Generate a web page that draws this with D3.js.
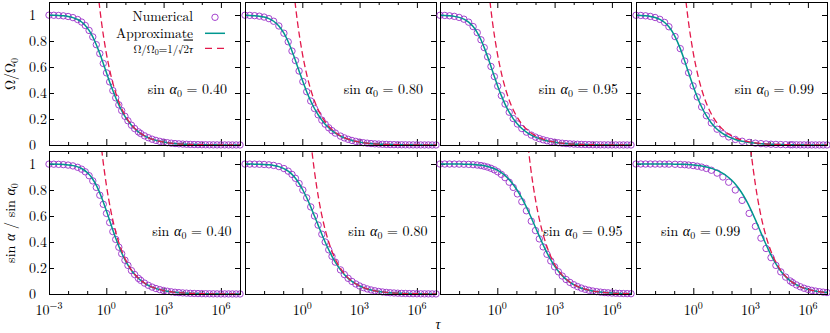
<!DOCTYPE html>
<html>
<head>
<meta charset="utf-8">
<script src="https://cdn.jsdelivr.net/npm/d3@7"></script>
<style>
body { margin: 0; background: #fff; }
text { font-family: "Latin Modern Roman", "CMU Serif", "Liberation Serif", serif; fill: #000; }
</style>
</head>
<body>
<svg id="chart" width="830" height="333"></svg>
<script>
// ---- data (x values are log10 tau) ----
const sinAlpha0Labels = ["0.40", "0.80", "0.95", "0.99"];
const xTickExp = [-3, 0, 3, 6];
const xMinorExp = [-2, -1, 1, 2, 4, 5, 7];
const yTicks = [0, 0.2, 0.4, 0.6, 0.8, 1];

// numerical solution, sin a0 = 0.40
const numTau1 = [-3, -2.75, -2.5, -2.25, -2, -1.75, -1.5,
  -1.292, -1.101, -0.901, -0.708, -0.523, -0.341, -0.158, 0.011, 0.176, 0.343, 0.493, 0.656, 0.806, 0.976, 1.133, 1.318, 1.482, 1.681,
  1.8, 2.0, 2.2, 2.4, 2.6, 2.8, 3.0, 3.2, 3.4, 3.6, 3.8, 4.0, 4.2, 4.4, 4.6, 4.8, 5.0, 5.2, 5.4, 5.6, 5.8, 6.0, 6.2, 6.4, 6.6, 6.8, 7.0];
const numOmega1 = [.9988, .9979, .9963, .9935, .9886, .9800, .9652,
  .9459, .9196, .8812, .8315, .7718, .7034, .6274, .5549, .4855, .4186, .3630, .3088, .2645, .2208, .1862, .1520, .1265, .1010,
  .0884, .0705, .0561, .0445, .0354, .0281, .0223, .0177, .0141, .0112, .0089, .0071, .0056, .0045, .0035, .0029, .0023, .0018, .0014, .0011, .0009, .0007, .0006, .0004, .0003, .0003, .0003];
const numSin1 = [.9992, .9985, .9973, .9953, .9916, .9854, .9745,
  .96, .94, .91, .87, .82, .76, .69, .62, .55, .48, .42, .36, .31, .26, .22, .18, .15, .12,
  .1050, .0838, .0667, .0530, .0421, .0335, .0266, .0211, .0168, .0133, .0106, .0084, .0067, .0053, .0042, .0034, .0027, .0021, .0017, .0013, .0011, .0008, .0007, .0005, .0004, .0003, .0003];

// sin a0 = 0.80
const numTau2 = [-3, -2.75, -2.5, -2.25, -2, -1.75, -1.5,
  -1.227, -0.963, -0.738, -0.540, -0.359, -0.168, 0.029, 0.231, 0.441, 0.637, 0.829, 1.023, 1.197, 1.384, 1.555, 1.728,
  2.0, 2.2, 2.4, 2.6, 2.8, 3.0, 3.2, 3.4, 3.6, 3.8, 4.0, 4.2, 4.4, 4.6, 4.8, 5.0, 5.2, 5.4, 5.6, 5.8, 6.0, 6.2, 6.4, 6.6, 6.8, 7.0];
const numOmega2 = [.9984, .9971, .9949, .9909, .9840, .9721, .9520,
  .9156, .8599, .7940, .7227, .6498, .5692, .4878, .4101, .3384, .2807, .2326, .1915, .1604, .1322, .1103, .0917,
  .0683, .0548, .0438, .0350, .0279, .0222, .0177, .0141, .0112, .0089, .0071, .0056, .0045, .0035, .0028, .0022, .0018, .0014, .0011, .0009, .0007, .0006, .0004, .0004, .0003, .0002];
const numSin2 = [.9996, .9994, .9989, .9980, .9964, .9937, .9890,
  .98, .965, .945, .92, .89, .85, .80, .74, .67, .60, .53, .46, .40, .34, .29, .245,
  .1855, .1499, .1205, .0966, .0772, .0616, .0491, .0390, .0311, .0247, .0196, .0156, .0124, .0098, .0078, .0062, .0049, .0039, .0031, .0025, .0020, .0016, .0012, .0010, .0008, .0006];

// sin a0 = 0.95
const numTau3 = [-3, -2.75, -2.5, -2.25, -2, -1.75, -1.5,
  -1.267, -1.050, -0.856, -0.684, -0.506, -0.332, -0.154, 0.023, 0.212, 0.404, 0.623, 0.832, 1.053, 1.284, 1.524, 1.779,
  2.0, 2.2, 2.4, 2.6, 2.8, 3.0, 3.2, 3.4, 3.6, 3.8, 4.0, 4.2, 4.4, 4.6, 4.8, 5.0, 5.2, 5.4, 5.6, 5.8, 6.0, 6.2, 6.4, 6.6, 6.8, 7.0];
const numOmega3 = [.9981, .9966, .9940, .9895, .9815, .9678, .9448,
  .9109, .8645, .8093, .7492, .6783, .6041, .5264, .4525, .3799, .3149, .2522, .2034, .1615, .1270, .0990, .0762,
  .0607, .0494, .0401, .0325, .0263, .0213, .0171, .0137, .0110, .0088, .0070, .0056, .0044, .0035, .0028, .0022, .0018, .0014, .0011, .0009, .0007, .0006, .0004, .0004, .0003, .0002];
const numSin3 = [.9999, .9998, .9997, .9995, .9990, .9983, .9970,
  .995, .992, .988, .983, .976, .967, .955, .94, .92, .895, .86, .82, .77, .71, .64, .56,
  .4883, .4240, .3625, .3055, .2542, .2093, .1707, .1382, .1114, .0893, .0715, .0570, .0455, .0362, .0288, .0229, .0182, .0144, .0115, .0091, .0073, .0058, .0046, .0036, .0029, .0023];

// sin a0 = 0.99
const numTau4 = [-3, -2.75, -2.5, -2.25, -2, -1.75, -1.5,
  -1.277, -0.956, -0.683, -0.451, -0.246, -0.010, 0.208, 0.437, 0.684, 0.944, 1.246, 1.549, 1.853, 2.199, 2.556, 2.924, 3.253, 3.541, 3.809, 4.068, 4.324, 4.580, 4.835, 5.077,
  5.2, 5.4, 5.6, 5.8, 6.0, 6.2, 6.4, 6.6, 6.8, 7.0];
const numOmega4 = [.9980, .9965, .9938, .9891, .9808, .9665, .9427,
  .9095, .8339, .7413, .6457, .5558, .4543, .3695, .2926, .2251, .1696, .1215, .0869, .0622, .0427, .0291, .0198, .0141, .0105, .0079, .0060, .0046, .0035, .0026, .0020,
  .0018, .0014, .0011, .0009, .0007, .0006, .0004, .0004, .0003, .0002];
const numSin4 = [1.0000, 1.0000, .9999, .9999, .9998, .9997, .9994,
  .999, .998, .9965, .9945, .992, .988, .983, .976, .966, .952, .93, .90, .86, .80, .72, .62, .52, .43, .35, .28, .22, .17, .13, .10,
  .0873, .0697, .0557, .0444, .0354, .0281, .0224, .0178, .0141, .0112];

// approximate sin a / sin a0 on a common grid
const gridTau = [-3, -2.5, -2, -1.75, -1.5, -1.25, -1, -0.75, -0.5, -0.25, 0, 0.25, 0.5, 0.75, 1, 1.25, 1.5, 1.75,
  2, 2.25, 2.5, 2.75, 3, 3.25, 3.5, 3.75, 4, 4.25, 4.5, 4.75, 5, 5.5, 6, 6.5, 7];
const approxSin1 = [.9993, .9977, .9928, .9874, .9779, .9617, .9348, .8922, .8292, .7443, .6420, .5324, .4270, .3341, .2570, .1957, .1480, .1115,
  .0839, .0630, .0473, .0355, .0266, .0200, .0150, .0112, .0084, .0063, .0047, .0035, .0027, .0015, .0008, .0005, .0003];
const approxSin3 = [1.0000, .9998, .9993, .9987, .9977, .9962, .9932, .9883, .9808, .9692, .9526, .9293, .8983, .8582, .8079, .7473, .6761, .5966,
  .5120, .4274, .3470, .2753, .2142, .1651, .1260, .0954, .0719, .0542, .0407, .0306, .0229, .0129, .0073, .0041, .0023];
const approxSin4 = [1.0000, 1.0000, .9999, .9998, .9997, .9995, .9990, .9984, .9972, .9954, .9927, .9887, .9830, .9752, .9646, .9506, .9320, .9078,
  .8764, .8364, .7864, .7254, .6534, .5722, .4857, .3996, .3197, .2501, .1926, .1467, .1110, .0629, .0355, .0200, .0112];

// asymptotes (dashed)
const dashTau = [-0.5, -0.25, 0, 0.25, 0.5, 0.75, 1, 1.25, 1.5, 1.75, 2, 2.25, 2.5, 2.75, 3, 3.25, 3.5, 3.75, 4, 4.5, 5, 5.5, 6, 6.5, 7];
const asymOmega = [1.2574, .9429, .7071, .5303, .3976, .2982, .2236, .1677, .1257, .0943, .0707, .0530, .0398, .0298, .0224, .0168, .0126, .0094, .0071, .0040, .0022, .0013, .0007, .0004, .0002];
const asymSin1 = [1.4970, 1.1225, .8418, .6313, .4734, .3550, .2662, .1996, .1497, .1123, .0842, .0631, .0473, .0355, .0266, .0200, .0150, .0112, .0084, .0047, .0027, .0015, .0008, .0005, .0003];
const asymSin2 = [null, null, null, 1.4729, 1.1045, .8283, .6211, .4658, .3493, .2619, .1964, .1473, .1105, .0828, .0621, .0466, .0349, .0262, .0196, .0110, .0062, .0035, .0020, .0011, .0006];
const asymSin3 = [null, null, null, null, null, null, null, null, 1.2897, .9671, .7252, .5438, .4078, .3058, .2293, .1720, .1290, .0967, .0725, .0408, .0229, .0129, .0073, .0041, .0023];
const asymSin4 = [null, null, null, null, null, null, null, null, null, null, null, null, null, 1.4984, 1.1237, .8426, .6319, .4738, .3553, .1998, .1124, .0632, .0355, .0200, .0112];

// ---- layout ----
const W = 191, H = 143;
const colLeft = [49, 245, 440, 636];
const rowTop = [2, 151];
const col = { num: "#9b30c8", approx: "#00978f", asym: "#e3194b" };

const zip = (xs, ys) => xs.map((v, i) => [v, ys[i]]);

const panels = [
  { tau: numTau1, omega: numOmega1, sin: numSin1, approx: zip(gridTau, approxSin1), asym: asymSin1 },
  { tau: numTau2, omega: numOmega2, sin: numSin2, approx: zip(numTau2, numSin2), asym: asymSin2 },
  { tau: numTau3, omega: numOmega3, sin: numSin3, approx: zip(gridTau, approxSin3), asym: asymSin3 },
  { tau: numTau4, omega: numOmega4, sin: numSin4, approx: zip(gridTau, approxSin4), asym: asymSin4 }
];

const svg = d3.select("#chart");
const defs = svg.append("defs");

const noDomain = g => g.select(".domain").remove();

rowTop.forEach((top, r) => {
  colLeft.forEach((left, c) => {
    const p = panels[c];
    const x = d3.scaleLog().domain([1e-3, 1e7]).range([left, left + W]);
    const y = d3.scaleLinear().domain([0, 1.1]).range([top + H, top]);
    const clipId = `clip-${r}-${c}`;
    defs.append("clipPath").attr("id", clipId)
      .append("rect").attr("x", left).attr("y", top).attr("width", W + 1).attr("height", H + 1);

    const g = svg.append("g");
    const major = xTickExp.map(e => 10 ** e), minor = xMinorExp.map(e => 10 ** e);

    g.append("g").attr("transform", `translate(0,${top + H})`)
      .call(d3.axisBottom(x).tickValues(major).tickSize(-6).tickFormat("")).call(noDomain);
    g.append("g").attr("transform", `translate(0,${top + H})`)
      .call(d3.axisBottom(x).tickValues(minor).tickSize(-3).tickFormat("")).call(noDomain);
    g.append("g").attr("transform", `translate(0,${top})`)
      .call(d3.axisTop(x).tickValues(major).tickSize(-6).tickFormat("")).call(noDomain);
    g.append("g").attr("transform", `translate(0,${top})`)
      .call(d3.axisTop(x).tickValues(minor).tickSize(-3).tickFormat("")).call(noDomain);
    g.append("g").attr("transform", `translate(${left},0)`)
      .call(d3.axisLeft(y).tickValues(yTicks).tickSize(-5).tickFormat("")).call(noDomain);
    g.append("g").attr("transform", `translate(${left + W},0)`)
      .call(d3.axisRight(y).tickValues(yTicks).tickSize(-5).tickFormat("")).call(noDomain);

    const vals = r === 0 ? p.omega : p.sin;
    const numPts = zip(p.tau, vals);
    const approxPts = r === 0 ? numPts : p.approx;
    const asymPts = zip(dashTau, r === 0 ? asymOmega : p.asym);

    const line = d3.line()
      .defined(d => d[1] != null)
      .x(d => x(10 ** d[0])).y(d => y(d[1]))
      .curve(d3.curveMonotoneX);

    g.append("g").selectAll("circle").data(numPts).join("circle")
      .attr("cx", d => x(10 ** d[0])).attr("cy", d => y(d[1]))
      .attr("r", 3.2).attr("fill", "none").attr("stroke", col.num).attr("stroke-width", 0.9);

    g.append("path").attr("clip-path", `url(#${clipId})`)
      .attr("d", line(approxPts)).attr("fill", "none")
      .attr("stroke", col.approx).attr("stroke-width", 1.5);

    g.append("path").attr("clip-path", `url(#${clipId})`)
      .attr("d", line(asymPts)).attr("fill", "none")
      .attr("stroke", col.asym).attr("stroke-width", 1.3).attr("stroke-dasharray", "6.5,3.5");

    g.append("rect").attr("x", left + 0.5).attr("y", top + 0.5).attr("width", W).attr("height", H)
      .attr("fill", "none").attr("stroke", "#000").attr("stroke-width", 1);

    // panel label
    const t = svg.append("text").attr("font-size", 14);
    if (r === 0) t.attr("x", left + W - 13).attr("y", 93.5).attr("text-anchor", "end");
    else if (c < 3) t.attr("x", left + W - 8.5).attr("y", 236).attr("text-anchor", "end");
    else t.attr("x", left + 25).attr("y", 236).attr("text-anchor", "start");
    t.append("tspan").text("sin ");
    t.append("tspan").attr("font-style", "italic").text("α");
    t.append("tspan").attr("font-size", 10).attr("dy", 3).text("0");
    t.append("tspan").attr("dy", -3).text(" = " + sinAlpha0Labels[c]);

    // y tick labels
    if (c === 0) {
      svg.append("g").selectAll("text").data(yTicks).join("text")
        .attr("x", 29).attr("y", d => y(d) + 4.8).attr("font-size", 14)
        .text(d => d3.format("~g")(d));
    }
    // x tick labels
    if (r === 1) {
      xTickExp.filter(e => c === 0 || e > -3).forEach(e => {
        const lab = svg.append("text").attr("x", x(10 ** e)).attr("y", 314.5)
          .attr("text-anchor", "middle").attr("font-size", 14);
        lab.append("tspan").text("10");
        lab.append("tspan").attr("dy", -5.5).attr("font-size", 10).text(e < 0 ? "\u2212" + (-e) : e);
      });
    }
  });
});

// axis titles
const yt1 = svg.append("text").attr("transform", "translate(15,74) rotate(-90)")
  .attr("text-anchor", "middle").attr("font-size", 14);
yt1.append("tspan").text("Ω/Ω");
yt1.append("tspan").attr("font-size", 10).attr("dy", 3).text("0");

const yt2 = svg.append("text").attr("transform", "translate(15,223) rotate(-90)")
  .attr("text-anchor", "middle").attr("font-size", 14);
yt2.append("tspan").text("sin ");
yt2.append("tspan").attr("font-style", "italic").text("α");
yt2.append("tspan").text(" / sin ");
yt2.append("tspan").attr("font-style", "italic").text("α");
yt2.append("tspan").attr("font-size", 10).attr("dy", 3).text("0");

svg.append("text").attr("x", 438).attr("y", 328.5).attr("text-anchor", "middle")
  .attr("font-size", 14).attr("font-style", "italic").text("τ");

// legend
const leg = svg.append("g");
leg.append("text").attr("x", 193).attr("y", 21).attr("text-anchor", "end").attr("font-size", 13.5).text("Numerical");
leg.append("circle").attr("cx", 215).attr("cy", 17.3).attr("r", 3.2)
  .attr("fill", "none").attr("stroke", col.num).attr("stroke-width", 0.9);
leg.append("text").attr("x", 193).attr("y", 38).attr("text-anchor", "end").attr("font-size", 13.5).text("Approximate");
leg.append("line").attr("x1", 205).attr("x2", 225).attr("y1", 33.3).attr("y2", 33.3)
  .attr("stroke", col.approx).attr("stroke-width", 1.5);
const l3 = leg.append("text").attr("x", 193).attr("y", 52.5).attr("text-anchor", "end").attr("font-size", 11);
l3.append("tspan").text("Ω/Ω");
l3.append("tspan").attr("font-size", 8).attr("dy", 2.5).text("0");
l3.append("tspan").attr("dy", -2.5).text("=1/√");
l3.append("tspan").style("text-decoration", "overline").text("2");
l3.append("tspan").style("text-decoration", "overline").attr("font-style", "italic").text("τ");
leg.append("line").attr("x1", 205).attr("x2", 225).attr("y1", 48.3).attr("y2", 48.3)
  .attr("stroke", col.asym).attr("stroke-width", 1.3).attr("stroke-dasharray", "7,5");
</script>
</body>
</html>
